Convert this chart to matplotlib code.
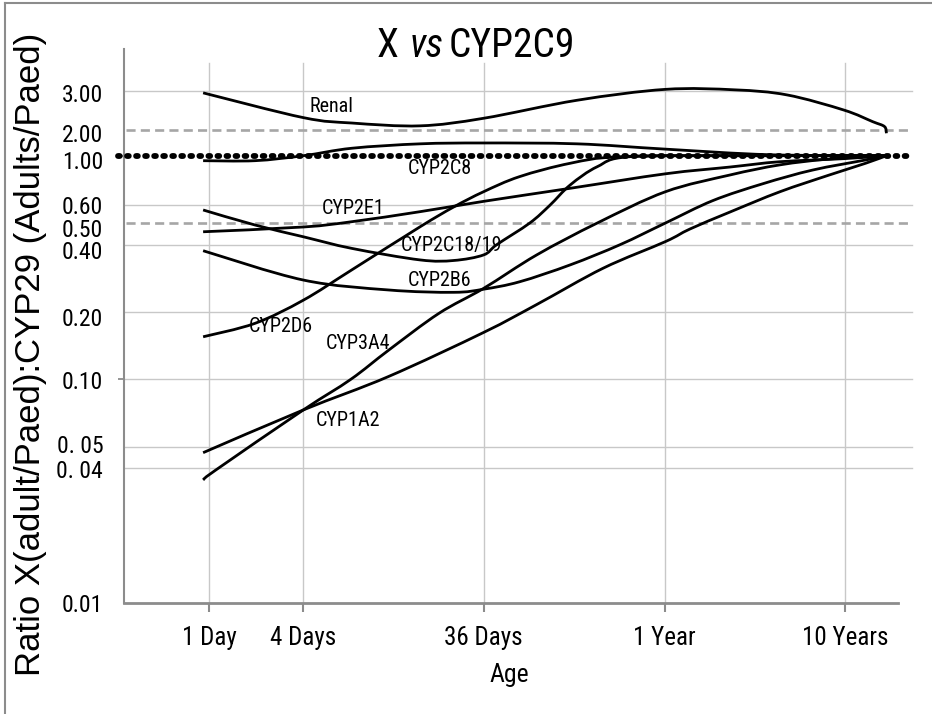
import numpy as np
import matplotlib
matplotlib.use("Agg")
import matplotlib.pyplot as plt
from matplotlib.path import Path
from matplotlib.patches import PathPatch
from matplotlib.lines import Line2D
from matplotlib.ticker import FixedLocator, NullFormatter, NullLocator
from matplotlib import font_manager

# ---------------- data (age in days, ratio) ----------------
renal_days = [1.0, 3.6, 6.7, 16, 36, 119, 368, 895, 1740, 3600, 5200, 6050, 6200]
renal_vals = [1.91, 1.48, 1.40, 1.36, 1.47, 1.77, 1.98, 1.97, 1.87, 1.60, 1.42, 1.35, 1.26]

cyp2c8_days = [1.0, 1.94, 3.6, 6.7, 16, 36, 119, 368, 1400, 6200]
cyp2c8_vals = [0.95, 0.95, 1.00, 1.08, 1.13, 1.14, 1.13, 1.07, 1.01, 1.00]

cyp2e1_days = [1.0, 3.6, 6.7, 16, 36, 109, 368, 840, 1590, 3600, 6200]
cyp2e1_vals = [0.457, 0.48, 0.507, 0.562, 0.625, 0.715, 0.83, 0.89, 0.94, 0.97, 1.0]

cyp2d6_days = [1.0, 1.94, 3.6, 6.7, 16, 24.6, 36, 57, 109, 206, 1000, 6200]
cyp2d6_vals = [0.155, 0.178, 0.226, 0.309, 0.481, 0.59, 0.69, 0.806, 0.925, 0.99, 1.0, 1.0]

cyp2c1819_days = [1.0, 1.94, 3.6, 6.7, 16, 24.6, 36, 42.6, 65, 84, 109, 154, 234, 1000, 6200]
cyp2c1819_vals = [0.572, 0.49, 0.434, 0.385, 0.342, 0.34, 0.36, 0.40, 0.50, 0.60, 0.74, 0.893, 0.99, 1.0, 1.0]

cyp2b6_days = [1.0, 3.6, 10.7, 24.6, 36, 57, 109, 206, 368, 675, 1283, 2420, 4750, 6200]
cyp2b6_vals = [0.376, 0.278, 0.251, 0.245, 0.253, 0.273, 0.325, 0.40, 0.50, 0.63, 0.75, 0.863, 0.957, 1.0]

cyp3a4_days = [1.0, 1.18, 3.6, 6.6, 10.7, 20.3, 36, 71, 154, 368, 840, 1590, 2990, 6200]
cyp3a4_vals = [0.0355, 0.0394, 0.073, 0.10, 0.135, 0.197, 0.255, 0.36, 0.50, 0.69, 0.82, 0.91, 0.967, 1.0]

cyp1a2_days = [1.0, 3.6, 10.7, 36, 71, 166, 368, 503, 840, 1590, 2990, 4750, 6200]
cyp1a2_vals = [0.047, 0.073, 0.103, 0.162, 0.216, 0.314, 0.413, 0.47, 0.56, 0.69, 0.82, 0.925, 1.0]

x_tick_pos = [1.08, 3.6, 36, 365, 3650]
x_tick_labels = ["1 Day", "4 Days", "36 Days", "1 Year", "10 Years"]

# where the y labels sit (as in the source, slightly below their lines)
y_label_pos = [1.90, 1.263, 0.957, 0.602, 0.4766, 0.379, 0.1907, 0.0994, 0.0514, 0.0398, 0.01]
y_tick_labels = ["3.00", "2.00", "1.00", "0.60", "0.50", "0.40", "0.20", "0.10", "0. 05", "0. 04", "0.01"]

grid_levels = [1.95, 0.6, 0.4, 0.2, 0.1, 0.05, 0.04]
dashed_levels = [1.30, 0.50]
unity_level = 1.0
y_tick_marks = [0.01, 0.1, 1.0]

series = [
    ("Renal", renal_days, renal_vals),
    ("CYP2C8", cyp2c8_days, cyp2c8_vals),
    ("CYP2E1", cyp2e1_days, cyp2e1_vals),
    ("CYP2D6", cyp2d6_days, cyp2d6_vals),
    ("CYP2C18/19", cyp2c1819_days, cyp2c1819_vals),
    ("CYP2B6", cyp2b6_days, cyp2b6_vals),
    ("CYP3A4", cyp3a4_days, cyp3a4_vals),
    ("CYP1A2", cyp1a2_days, cyp1a2_vals),
]

# label positions (axes fraction)
label_pos = {
    "Renal": (0.2682, 0.8959),
    "CYP2C8": (0.4083, 0.7834),
    "CYP2E1": (0.2963, 0.7112),
    "CYP2C18/19": (0.4234, 0.6462),
    "CYP2B6": (0.4083, 0.5818),
    "CYP2D6": (0.2024, 0.5000),
    "CYP3A4": (0.3027, 0.4688),
    "CYP1A2": (0.2890, 0.3291),
}

# ---------------- fonts ----------------
names = {f.name for f in font_manager.fontManager.ttflist}
NARROW = None
for cand in ["Liberation Sans Narrow", "Arial Narrow", "Nimbus Sans Narrow",
             "Roboto Condensed", "Open Sans Condensed"]:
    if cand in names:
        NARROW = cand
        break
REG = "Liberation Sans" if "Liberation Sans" in names else "DejaVu Sans"


def nfont(size):
    if NARROW:
        return dict(family=NARROW, size=size)
    return dict(family=REG, size=size * 0.9)


# ---------------- smoothed line (Bezier, Excel-like) ----------------
def smooth_path(xs, ys):
    P = np.column_stack([np.log10(xs), np.log10(ys)])
    n = len(P)
    verts = [P[0]]
    codes = [Path.MOVETO]
    for i in range(n - 1):
        p0 = P[i - 1] if i > 0 else P[i]
        p1 = P[i]
        p2 = P[i + 1]
        p3 = P[i + 2] if i + 2 < n else P[i + 1]
        c1 = p1 + (p2 - p0) / 6.0
        c2 = p2 - (p3 - p1) / 6.0
        verts += [c1, c2, p2]
        codes += [Path.CURVE4] * 3
    return Path(10 ** np.array(verts), codes)


W, H = 932, 714
fig = plt.figure(figsize=(W / 100, H / 100), dpi=100)
ax = fig.add_axes([124 / W, 1 - 603 / H, 774 / W, 554 / H])
ax.set_xscale("log")
ax.set_yscale("log")

GRID = "#c8c8c8"
AXC = "#8c8c8c"

for v in grid_levels:
    ax.axhline(v, xmin=0, xmax=1.018, color=GRID, lw=1.0, zorder=1, clip_on=False)
for x in x_tick_pos:
    ax.axvline(x, ymin=0, ymax=0.9747, color=GRID, lw=1.0, zorder=1)
for v in dashed_levels:
    ax.axhline(v, xmin=0.003, xmax=1.017, color="#a6a6a6", lw=1.9,
               ls=(0, (3.45, 1.97)), zorder=1.5, clip_on=False)

for name, d, v in series:
    ax.add_patch(PathPatch(smooth_path(d, v), fill=False, ec="black", lw=2.0,
                           zorder=3, joinstyle="round", capstyle="butt"))

ax.axhline(unity_level, xmin=-0.0078, xmax=1.013, color="black", lw=4.2,
           ls=(0, (0.3, 1.25)), dash_capstyle="round", zorder=4, clip_on=False)

ax.set_xlim(0.3638, 7190)
ax.set_ylim(0.01, 3.0)

for s in ["top", "right"]:
    ax.spines[s].set_visible(False)
ax.spines["left"].set_color(AXC)
ax.spines["left"].set_linewidth(1.5)
ax.spines["bottom"].set_color(AXC)
ax.spines["bottom"].set_linewidth(2.0)

ax.xaxis.set_minor_locator(NullLocator())
ax.set_xticks(x_tick_pos, x_tick_labels, **nfont(18))
ax.tick_params(axis="x", which="major", direction="out", length=6.5, width=1.5,
               color=AXC, pad=10, labelcolor="black")

ax.set_yticks(y_label_pos, y_tick_labels, **nfont(17))
ax.yaxis.set_minor_locator(FixedLocator(y_tick_marks))
ax.yaxis.set_minor_formatter(NullFormatter())
ax.tick_params(axis="y", which="major", length=0, pad=15, labelcolor="black")
ax.tick_params(axis="y", which="minor", direction="out", length=4.3, width=1.3, color=AXC)

for name, d, v in series:
    fx, fy = label_pos[name]
    ax.text(fx, fy, name, transform=ax.transAxes, ha="center", va="center",
            zorder=5, **nfont(14.5))

# axis titles
fig.text(509.5 / W, 1 - 682 / H, "Age", ha="center", va="baseline", **nfont(18.5))
fig.text(40 / W, 1 - 354.5 / H, "Ratio X(adult/Paed):CYP29 (Adults/Paed)",
         rotation=90, rotation_mode="anchor", ha="center", va="baseline",
         family=REG, size=25)

# title with italic "vs"
r = fig.canvas.get_renderer()
ty = 1 - 57 / H
tf = nfont(28.5)
t1 = fig.text(377 / W, ty, "X", ha="left", va="baseline", **tf)
b1 = t1.get_window_extent(r)
t2 = fig.text((b1.x1 + 11) / W, ty, "vs", ha="left", va="baseline", style="italic", **tf)
b2 = t2.get_window_extent(r)
fig.text((b2.x1 + 5) / W, ty, "CYP2C9", ha="left", va="baseline", **tf)

# partial frame (top and left edges)
fig.add_artist(Line2D([5 / W, 5 / W], [0, 1 - 2.7 / H], color=AXC, lw=1.5))
fig.add_artist(Line2D([5 / W, 1], [1 - 2.7 / H, 1 - 2.7 / H], color=AXC, lw=1.5))

fig.savefig("out.png", dpi=100)
